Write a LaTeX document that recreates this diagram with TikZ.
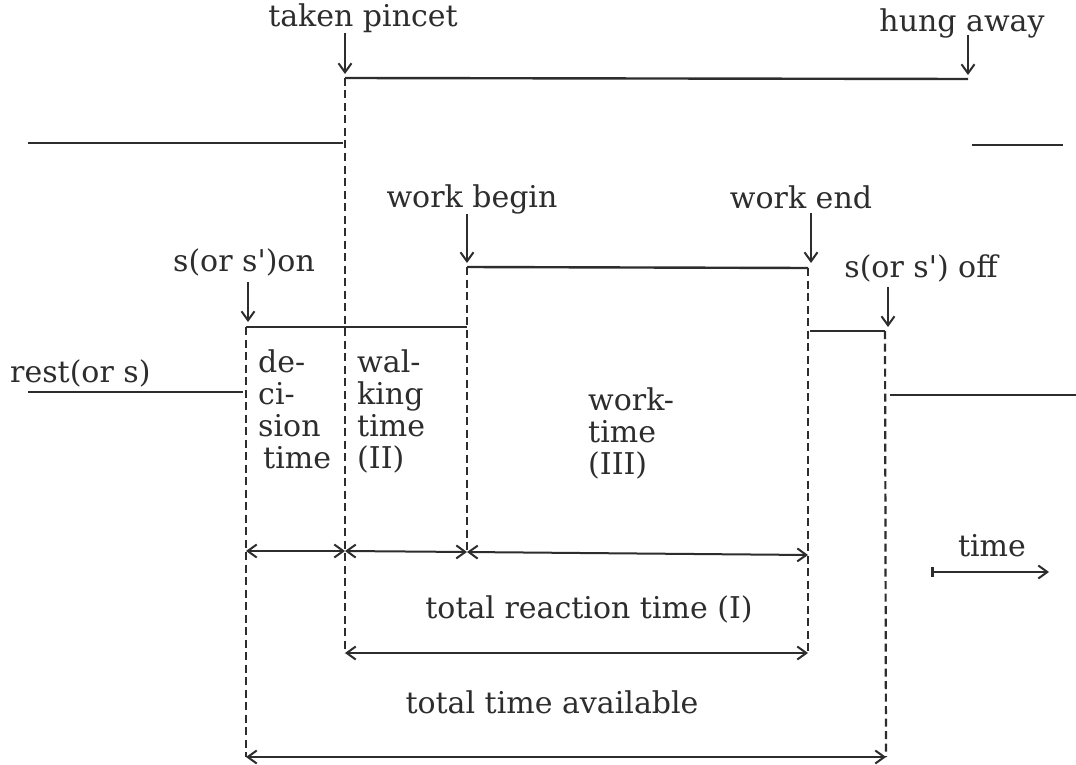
\documentclass[tikz,border=0pt]{standalone}
\usepackage{fontspec}
\setmainfont{DejaVu Serif}
\usetikzlibrary{arrows.meta}
\definecolor{ink}{RGB}{45,45,45}
\newcommand\stack[1]{\begin{tabular}[t]{@{}l@{}}#1\end{tabular}}
\begin{document}
\begin{tikzpicture}[x=1pt,y=-1pt,
  lbl/.style={font=\fontsize{30}{32}\selectfont, inner sep=0pt, text=ink},
  level/.style={draw=ink, line width=2.4pt},
  edge/.style={draw=ink, line width=2.2pt, dash pattern=on 8pt off 4.5pt},
  event/.style={draw=ink, line width=2pt, -{Straight Barb[length=9pt,width=13pt,line width=2pt]}},
  span/.style={draw=ink, line width=2pt, {Straight Barb[length=9pt,width=13pt,line width=2pt]}-{Straight Barb[length=9pt,width=13pt,line width=2pt]}},
  ]
\path[fill=white] (0,0) rectangle (1076,765);
\useasboundingbox (0,0) rectangle (1076,765);

% ---- coordinates
\coordinate (tl0) at (28,143);   \coordinate (tl1) at (343,143);
\coordinate (th0) at (345,78);   \coordinate (th1) at (968,79);
\coordinate (tr0) at (972,145);  \coordinate (tr1) at (1063,145);
\coordinate (mh0) at (467,267);  \coordinate (mh1) at (808,268);
\coordinate (r0) at (28,392);    \coordinate (r1) at (243,392);
\coordinate (on0) at (246,327);  \coordinate (on1) at (467,327);
\coordinate (off0) at (810,331); \coordinate (off1) at (885,331);
\coordinate (rr0) at (890,395);  \coordinate (rr1) at (1076,395);

% ---- signal levels
\draw[level] (tl0) -- (tl1);
\draw[level] (th0) -- (th1);
\draw[level] (tr0) -- (tr1);
\draw[level] (mh0) -- (mh1);
\draw[level] (r0) -- (r1);
\draw[level] (on0) -- (on1);
\draw[level] (off0) -- (off1);
\draw[level] (rr0) -- (rr1);

% ---- measurement rows
\coordinate (a0) at (246,551); \coordinate (a1) at (345,551);
\coordinate (a2) at (467,552); \coordinate (a3) at (808,555);
\coordinate (b0) at (345,653); \coordinate (b1) at (808,653);
\coordinate (c0) at (246,757); \coordinate (c1) at (886,757);

% ---- dashed verticals
\draw[edge] (th0) -- (b0);
\draw[edge] (on0) -- (c0);
\draw[edge] (mh0) -- (a2);
\draw[edge] (mh1) -- (b1);
\draw[edge] (off1) -- (c1);

\draw[span] (a0) -- (a1);
\draw[span] (a1) -- (a2);
\draw[span] (a2) -- (a3);
\draw[span] (b0) -- (b1);
\draw[span] (c0) -- (c1);

% ---- event labels and arrows
\node[lbl, anchor=base] (tp) at (363,27) {taken pincet};
\node[lbl, anchor=base] (ha) at (962,32) {hung away};
\node[lbl, anchor=base] (wb) at (472,207) {work begin};
\node[lbl, anchor=base] (we) at (801,208) {work end};
\node[lbl, anchor=base] (son) at (244,271) {s(or s\textquotesingle)on};
\node[lbl, anchor=base] (soff) at (921,277) {s(or s\textquotesingle) off};
\node[lbl, anchor=base west] (rest) at (10,382) {rest(or s)};

\coordinate (tpa) at (345,33);  \coordinate (tpb) at (345,74);
\coordinate (haa) at (968,35);  \coordinate (hab) at (968,75);
\coordinate (wba) at (467,214); \coordinate (wbb) at (467,263);
\coordinate (wea) at (811,213); \coordinate (web) at (811,263);
\coordinate (sona) at (248,282); \coordinate (sonb) at (248,322);
\coordinate (soffa) at (888,287); \coordinate (soffb) at (888,327);
\draw[event] (tpa) -- (tpb);
\draw[event] (haa) -- (hab);
\draw[event] (wba) -- (wbb);
\draw[event] (wea) -- (web);
\draw[event] (sona) -- (sonb);
\draw[event] (soffa) -- (soffb);

% ---- interval labels
\node[lbl, anchor=base west] (dec) at (258,372) {\stack{de-\\ci-\\sion\\\,time}};
\node[lbl, anchor=base west] (walk) at (357,372) {\stack{wal-\\king\\time\\(II)}};
\node[lbl, anchor=base west] (work) at (588,410) {\stack{work-\\time\\(III)}};

\node[lbl, anchor=base] (tr) at (589,618) {total reaction time (I)};
\node[lbl, anchor=base] (ta) at (552,713) {total time available};

% ---- time axis
\node[lbl, anchor=base] (tm) at (992,556) {time};
\coordinate (t0) at (931,572); \coordinate (t1) at (1049,572);
\draw[draw=ink, line width=2.2pt, {Bar[width=10pt,line width=2.6pt]}-{Straight Barb[length=9pt,width=13pt,line width=2pt]}] (t0) -- (t1);
\end{tikzpicture}
\end{document}
